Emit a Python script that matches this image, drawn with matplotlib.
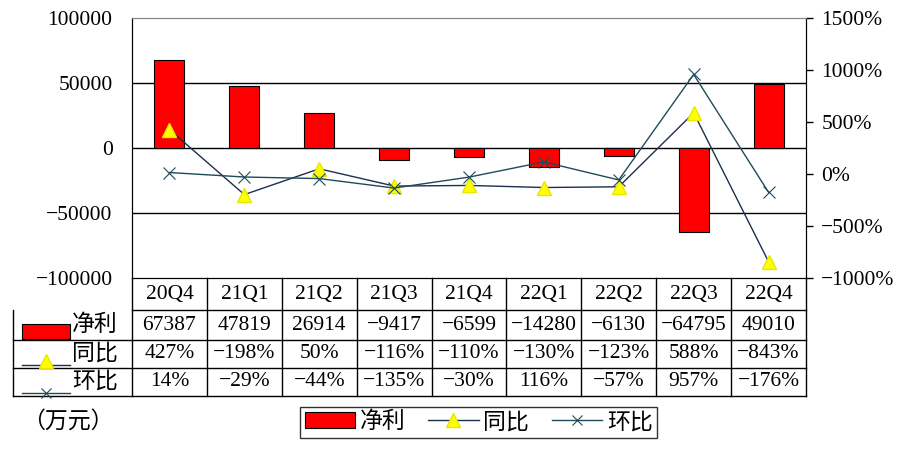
import matplotlib.pyplot as plt
from matplotlib.patches import Rectangle
from matplotlib.lines import Line2D

plt.rcParams['font.family'] = ['Liberation Serif', 'Noto Sans CJK SC']
plt.rcParams['axes.unicode_minus'] = True

quarters = ['20Q4', '21Q1', '21Q2', '21Q3', '21Q4', '22Q1', '22Q2', '22Q3', '22Q4']
net_profit = [67387, 47819, 26914, -9417, -6599, -14280, -6130, -64795, 49010]
yoy = [427, -198, 50, -116, -110, -130, -123, 588, -843]
qoq = [14, -29, -44, -135, -30, 116, -57, 957, -176]
row_names = ['净利', '同比', '环比']

RED = '#ff0000'
YOY_C = '#1c2f4f'
QOQ_C = '#1f4a5a'
FS = 15.5

W, H = 907, 458
fig = plt.figure(figsize=(W / 100, H / 100), dpi=100)
ax = fig.add_axes([132 / W, 1 - 278 / H, 674 / W, 260 / H])
ax2 = ax.twinx()

x = list(range(len(quarters)))
ax.bar(x, net_profit, width=0.4, color=RED, edgecolor='black', linewidth=0.8, zorder=2)
ax.set_xlim(-0.5, len(quarters) - 0.5)
ax.set_ylim(-100000, 100000)
ax.set_yticks([-100000, -50000, 0, 50000, 100000])
ax.set_yticklabels([str(v).replace('-', '\u2212') for v in ax.get_yticks().astype(int)], fontsize=FS)
ax.tick_params(axis='y', length=0, pad=14)
ax.set_xticks([])
ax.set_axisbelow(True)
for v in [-50000, 0, 50000]:
    ax.axhline(v, color='black', linewidth=1, zorder=1)

ax2.plot(x, yoy, color=YOY_C, linewidth=1, marker='^', markersize=10,
         markerfacecolor='#ffff00', markeredgecolor='#e6e600', zorder=3)
ax2.plot(x, qoq, color=QOQ_C, linewidth=1, marker='x', markersize=8,
         markeredgewidth=0.8, zorder=3)
ax2.set_ylim(-1000, 1500)
ax2.set_yticks([-1000, -500, 0, 500, 1000, 1500])
ax2.set_yticklabels([f'{v}%'.replace('-', '\u2212') for v in [-1000, -500, 0, 500, 1000, 1500]], fontsize=FS)
ax2.tick_params(axis='y', length=5, width=1, pad=6, direction='out')

for a in (ax, ax2):
    a.spines['top'].set_color('#888888')
    a.spines['left'].set_color('black')
    a.spines['right'].set_color('black')
    a.spines['bottom'].set_color('black')

# table under the plot
tr = ax.get_xaxis_transform()
px2x = lambda px: (px - 132) / 674 * 9 - 0.5
left_x = px2x(13)
right_x = len(quarters) - 0.5
rows_y = [0, -32 / 260, -62 / 260, -90 / 260, -118 / 260]

line_kw = dict(color='black', linewidth=1, transform=tr, clip_on=False)
ax.plot([-0.5, right_x], [rows_y[1]] * 2, **line_kw)
for yv in rows_y[2:]:
    ax.plot([left_x, right_x], [yv] * 2, **line_kw)
ax.plot([left_x, left_x], [rows_y[1], rows_y[4]], **line_kw)
for i in range(len(quarters) + 1):
    ax.plot([i - 0.5] * 2, [rows_y[0], rows_y[4]], **line_kw)

for i, q in enumerate(quarters):
    cy = (rows_y[0] + rows_y[1]) / 2
    ax.text(i, cy, q, transform=tr, ha='center', va='center', fontsize=FS)
    vals = [str(net_profit[i]), f'{yoy[i]}%', f'{qoq[i]}%']
    for r, s in enumerate(vals):
        cy = (rows_y[r + 1] + rows_y[r + 2]) / 2
        ax.text(i, cy, s.replace('-', '\u2212'), transform=tr, ha='center', va='center', fontsize=FS)

# row labels with legend keys
for r, name in enumerate(row_names):
    cy = (rows_y[r + 1] + rows_y[r + 2]) / 2
    ax.text(px2x(72), cy, name, transform=tr, ha='left', va='center', fontsize=FS + 1)
    if r == 0:
        ax.add_patch(Rectangle((px2x(22), cy - 14 / 260), px2x(70) - px2x(22), 15 / 260,
                               transform=tr, facecolor=RED, edgecolor='black',
                               linewidth=0.8, clip_on=False))
    else:
        ly = cy - 11 / 260
        ax.plot([px2x(22), px2x(70)], [ly] * 2, color=YOY_C if r == 1 else QOQ_C,
                linewidth=1, transform=tr, clip_on=False)
        if r == 1:
            ax.plot([px2x(46)], [ly + 4 / 260], marker='^', markersize=10, markerfacecolor='#ffff00',
                    markeredgecolor='#e6e600', transform=tr, clip_on=False)
        else:
            ax.plot([px2x(46)], [ly], marker='x', markersize=7, color=QOQ_C,
                    markeredgewidth=0.8, transform=tr, clip_on=False)

fig.text(22 / W, 1 - 422 / H, '（万元）', fontsize=FS + 1, va='center', ha='left')

handles = [
    Rectangle((0, 0), 1, 1, facecolor=RED, edgecolor='black', linewidth=0.8),
    Line2D([], [], color=YOY_C, linewidth=1, marker='^', markersize=10,
           markerfacecolor='#ffff00', markeredgecolor='#e6e600'),
    Line2D([], [], color=QOQ_C, linewidth=1, marker='x', markersize=7, markeredgewidth=0.8),
]
leg = fig.legend(handles, row_names, loc='lower left', bbox_to_anchor=(300 / W, 1 - 438 / H),
                 ncol=3, fontsize=FS + 1, frameon=True, fancybox=False, borderaxespad=0,
                 borderpad=0.2, handlelength=2.2, handletextpad=0.2, columnspacing=1.0)
leg.get_frame().set_edgecolor('black')
leg.get_frame().set_linewidth(1)

fig.savefig('out.png', dpi=100)
